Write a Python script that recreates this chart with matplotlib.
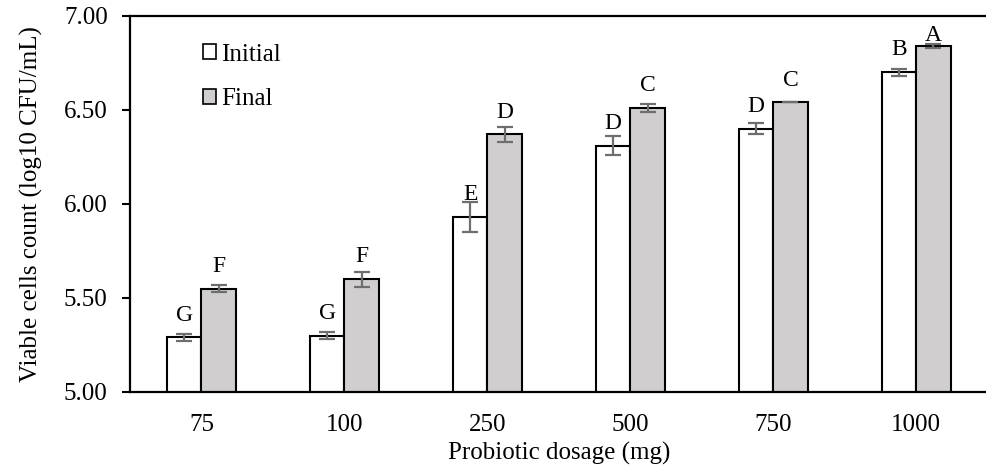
import matplotlib
matplotlib.use("Agg")
import matplotlib.pyplot as plt
import numpy as np
from matplotlib.patches import Patch

# chart data
dosages = ["75", "100", "250", "500", "750", "1000"]
initial = [5.29, 5.30, 5.93, 6.31, 6.40, 6.70]
initial_err = [0.02, 0.02, 0.08, 0.05, 0.03, 0.02]
final = [5.55, 5.60, 6.37, 6.51, 6.54, 6.84]
final_err = [0.02, 0.04, 0.04, 0.02, 0.00, 0.01]
initial_letters = ["G", "G", "E", "D", "D", "B"]
final_letters = ["F", "F", "D", "C", "C", "A"]
ytick_vals = [5.0, 5.5, 6.0, 6.5, 7.0]

plt.rcParams['font.family'] = ['Liberation Serif', 'DejaVu Serif']

fig = plt.figure(figsize=(9.86, 4.70), dpi=100)
ax = fig.add_axes([0.1318, 0.166, 0.870, 0.800])

x = np.arange(len(dosages))
w = 0.24
ekw = dict(ecolor="#6e6e6e", elinewidth=1.6, capthick=1.6)
ax.bar(x - w / 2, initial, w, color="white", edgecolor="black",
       linewidth=1.5, yerr=initial_err, capsize=5.5, error_kw=ekw, zorder=2)
ax.bar(x + w / 2, final, w, color="#d0cece", edgecolor="black",
       linewidth=1.5, yerr=final_err, capsize=5.5, error_kw=ekw, zorder=2)

# significance letters sit a fixed step above each bar, kept under the top
for i in range(len(dosages)):
    ax.text(x[i] - w / 2, min(initial[i] + 0.09, 6.867), initial_letters[i],
            ha="center", va="baseline", fontsize=17)
    ax.text(x[i] + w / 2, min(final[i] + 0.09, 6.867), final_letters[i],
            ha="center", va="baseline", fontsize=17)

ax.set_xlim(-0.5, 5.5)
ax.set_ylim(5.0, 7.0)
ax.set_xticks(x)
ax.set_xticklabels(dosages, fontsize=18)
ax.set_yticks(ytick_vals)
ax.set_yticklabels(["%.2f" % v for v in ytick_vals], fontsize=18)
ax.tick_params(axis="x", length=0, pad=16)
ax.tick_params(axis="y", direction="out", length=6, width=1.5, pad=10)
for s in ["left", "bottom", "top"]:
    ax.spines[s].set_linewidth(1.6)
ax.spines["right"].set_visible(False)

ax.set_xlabel("Probiotic dosage (mg)", fontsize=18, labelpad=4)
ax.set_ylabel("Viable cells count (log10 CFU/mL)", fontsize=18, labelpad=15)

handles = [Patch(facecolor="white", edgecolor="black", linewidth=1.2),
           Patch(facecolor="#d0cece", edgecolor="black", linewidth=1.2)]
ax.legend(handles, ["Initial", "Final"], loc="upper left",
          bbox_to_anchor=(0.07, 0.96), frameon=False, fontsize=18,
          handlelength=0.55, handleheight=0.55, handletextpad=0.2,
          labelspacing=0.9, borderpad=0)

fig.savefig("out.png", dpi=100)
